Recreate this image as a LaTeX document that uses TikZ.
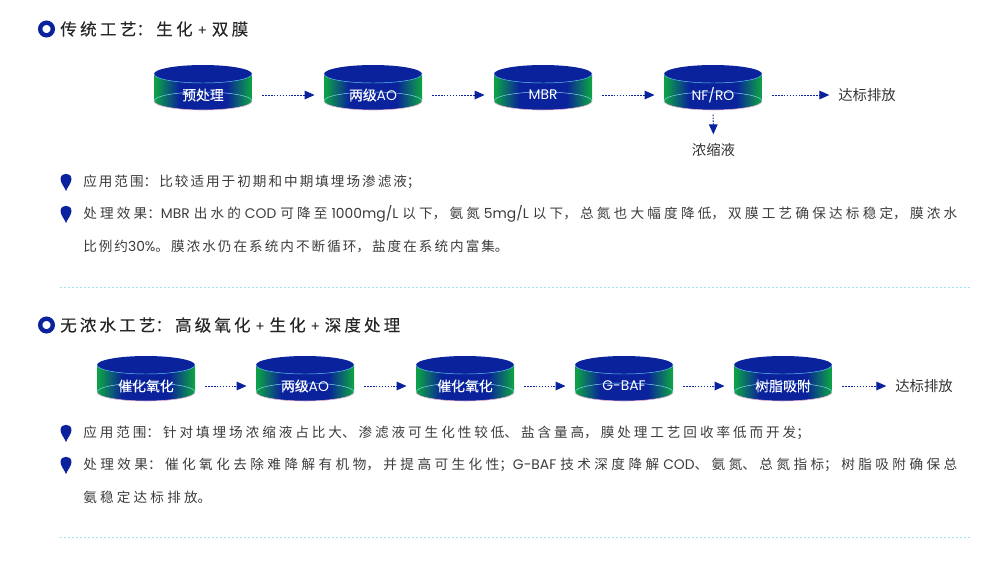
\documentclass[tikz,border=0pt]{standalone}
\usepackage{fontspec}
\usetikzlibrary{arrows.meta}
\setmainfont{Noto Sans CJK SC}
\newfontfamily\lat{Poppins}
\newfontfamily\headfont[FakeBold=0.2]{Noto Sans CJK SC}
\definecolor{deepblue}{RGB}{10, 34, 155}
\definecolor{tankgreen}{RGB}{12, 158, 72}
\definecolor{inkgray}{RGB}{60, 60, 60}
\definecolor{rulecyan}{RGB}{160, 226, 240}
\pgfdeclarehorizontalshading{tankside}{100bp}{color(0bp)=(tankgreen); color(26bp)=(tankgreen); color(38bp)=(deepblue); color(62bp)=(deepblue); color(74bp)=(tankgreen); color(100bp)=(tankgreen)}
\XeTeXlinebreaklocale "zh"
\XeTeXlinebreakskip=0.6pt plus 3pt minus 0.5pt
\newcommand{\la}[1]{\mbox{\lat\fontsize{10.4}{12}\selectfont #1}}
\newcommand{\fitline}[1]{\parfillskip=0pt\relax #1\par}
% full width punctuation
\newcommand{\zcolon}{^^^^ff1a}
\newcommand{\zcomma}{^^^^ff0c}
\newcommand{\zsemi}{^^^^ff1b}
\tikzset{
  tanklabel/.style={inner sep=0pt, minimum width=74.25pt, minimum height=22pt, text=white, font=\headfont\fontsize{10.4}{12}\selectfont},
  flow/.style={draw=deepblue, line width=0.75pt, dash pattern={on 1.2pt off 1pt}, -{Triangle[length=7.5pt,width=6.5pt,fill=deepblue]}, shorten <=7pt, shorten >=6.5pt},
  headline/.style={anchor=west, inner sep=0pt, align=justify, text=black!85, font=\headfont\fontsize{12.4}{15}\selectfont},
  bodyline/.style={anchor=west, inner sep=0pt, align=justify, text=inkgray, font=\fontsize{10.2}{13}\selectfont},
  steplabel/.style={inner sep=0pt, text=black!80, font=\fontsize{10.8}{13}\selectfont},
  rulerline/.style={draw=rulecyan, line width=0.7pt, dash pattern={on 1.5pt off 1.5pt}}
}
% cylinder with its label node: name, x, y, text
\newcommand{\tank}[4]{
  \begin{scope}[shift={(#2,#3)}]
    \shade [shading=tankside] (-49,-21) -- (-49,6) .. controls (-49,11) and (-27,15) .. (0,15) .. controls (27,15) and (49,11) .. (49,6) -- (49,-21) -- cycle;
    \draw [cyan!45!white, line width=0.35pt] (-49,6) .. controls (-49,1) and (-27,-3) .. (0,-3) .. controls (27,-3) and (49,1) .. (49,6);
    \draw [black!30!magenta!35!white, line width=0.45pt] (-49,6) .. controls (-49,11) and (-27,15) .. (0,15) .. controls (27,15) and (49,11) .. (49,6);
    \fill [deepblue] (-49,-21) .. controls (-49,-26) and (-27,-30) .. (0,-30) .. controls (27,-30) and (49,-26) .. (49,-21) .. controls (49,-16) and (27,-12) .. (0,-12) .. controls (-27,-12) and (-49,-16) .. (-49,-21) -- cycle;
    \draw [cyan!60!white, line width=0.35pt] (-49,-21) .. controls (-49,-16) and (-27,-12) .. (0,-12) .. controls (27,-12) and (49,-16) .. (49,-21);
  \end{scope}
  \node [tanklabel] (#1) at (#2,#3) {#4};
}
\newcommand{\ringmark}[2]{\draw [deepblue, line width=3.3pt] (#1,#2) circle [radius=6.3];}
\newcommand{\pinmark}[2]{\fill [deepblue] (#1,#2+9) .. controls (#1-2,#2+4) and (#1-5.5,#2+1) .. (#1-5.5,#2-3) .. controls (#1-5.5,#2-10) and (#1+5.5,#2-10) .. (#1+5.5,#2-3) .. controls (#1+5.5,#2+1) and (#1+2,#2+4) .. (#1,#2+9) -- cycle;}

\begin{document}
\begin{tikzpicture}[x=0.75pt,y=0.75pt,yscale=-1,xscale=1]
\useasboundingbox (0,0) rectangle (1000,561);

% First block heading
\ringmark{46.5}{29}
\node [headline, text width=141pt] (headone) at (60,29) {\fitline{传统工艺\zcolon 生化 \la{+} 双膜}};

% Upper row
\tank{pre}{203}{95}{预处理}
\tank{aoone}{373}{95}{两级\la{AO}}
\tank{mbr}{543}{95}{\la{MBR}}
\tank{nfro}{713}{95}{\la{NF/RO}}
\node [steplabel, anchor=west] (outone) at (838,95) {达标排放};
\node [steplabel, anchor=north] (conc) at (713.5,143) {浓缩液};

\draw [flow] (pre) -- (aoone);
\draw [flow] (aoone) -- (mbr);
\draw [flow] (mbr) -- (nfro);
\draw [flow] (nfro) -- (outone);
\draw [flow, shorten <=3.5pt, shorten >=6.5pt] (nfro) -- (conc);

% First block text
\pinmark{66}{182}
\node [bodyline, text width=253pt] (scopeone) at (83,182) {\fitline{应用范围\zcolon 比较适用于初期和中期填埋场渗滤液\zsemi}};
\pinmark{66}{214}
\node [bodyline, text width=655.5pt] (effectone) at (83,214) {\fitline{处理效果\zcolon\la{MBR} 出水的 \la{COD} 可降至 \la{1000mg/L} 以下\zcomma 氨氮 \la{5mg/L} 以下\zcomma 总氮也大幅度降低\zcomma 双膜工艺确保达标稳定\zcomma 膜浓水}};
\node [bodyline, text width=319pt] (effectonenext) at (83,246) {\fitline{比例约\la{30\%}。膜浓水仍在系统内不断循环\zcomma 盐度在系统内富集。}};

\draw [rulerline] (60,287) -- (972,287);

% Second block heading
\ringmark{46.5}{325}
\node [headline, text width=255pt] (headtwo) at (60,325) {\fitline{无浓水工艺\zcolon 高级氧化 \la{+} 生化 \la{+} 深度处理}};

% Lower row
\tank{catone}{146}{386}{催化氧化}
\tank{aotwo}{305}{386}{两级\la{AO}}
\tank{cattwo}{465}{386}{催化氧化}
\tank{gbaf}{624}{386}{\la{G-BAF}}
\tank{resin}{783}{386}{树脂吸附}
\node [steplabel, anchor=west] (outtwo) at (895,386) {达标排放};

\draw [flow] (catone) -- (aotwo);
\draw [flow] (aotwo) -- (cattwo);
\draw [flow] (cattwo) -- (gbaf);
\draw [flow] (gbaf) -- (resin);
\draw [flow] (resin) -- (outtwo);

% Second block text
\pinmark{66}{433}
\node [bodyline, text width=545pt] (scopetwo) at (83,433) {\fitline{应用范围\zcolon 针对填埋场浓缩液占比大、渗滤液可生化性较低、盐含量高\zcomma 膜处理工艺回收率低而开发\zsemi}};
\pinmark{66}{465}
\node [bodyline, text width=655.5pt] (effecttwo) at (83,465) {\fitline{处理效果\zcolon 催化氧化去除难降解有机物\zcomma 并提高可生化性\zsemi\la{G-BAF} 技术深度降解 \la{COD}、氨氮、总氮指标\zsemi 树脂吸附确保总}};
\node [bodyline, text width=96pt] (effecttwonext) at (83,497) {\fitline{氨稳定达标排放。}};

\draw [rulerline] (60,537) -- (972,537);

\end{tikzpicture}
\end{document}
